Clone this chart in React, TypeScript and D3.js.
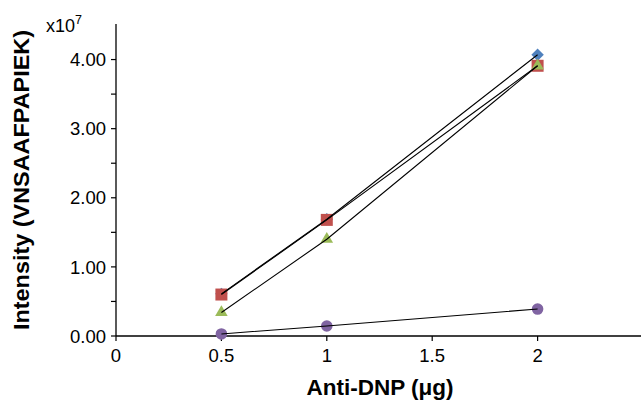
import React from "react";
import * as d3 from "d3";

const xValues = [0.5, 1, 2];
const seriesBlue = [0.61, 1.69, 4.07];
const seriesRed = [0.6, 1.68, 3.91];
const seriesGreen = [0.34, 1.4, 3.91];
const seriesPurple = [0.03, 0.145, 0.39];
const yTicks = [0, 1, 2, 3, 4];
const yMinorTicks = [0.5, 1.5, 2.5, 3.5];
const xTicks = [0, 0.5, 1, 1.5, 2];

const W = 641, H = 400;
const x = d3.scaleLinear().domain([0, 2.5]).range([116, 643]);
const y = d3.scaleLinear().domain([0, 4.5]).range([336, 25]);

const series = [
  { vals: seriesBlue, color: "#4F81BD", shape: "diamond" },
  { vals: seriesRed, color: "#C0504D", shape: "square" },
  { vals: seriesGreen, color: "#9BBB59", shape: "triangle" },
  { vals: seriesPurple, color: "#8064A2", shape: "circle" },
];

function markerPath(shape: string): string {
  if (shape === "diamond") return "M0,-6.2L6.2,0L0,6.2L-6.2,0Z";
  if (shape === "square") return d3.symbol().type(d3.symbolSquare).size(144)()!;
  if (shape === "triangle") return d3.symbol().type(d3.symbolTriangle).size(68)()!;
  return d3.symbol().type(d3.symbolCircle).size(105)()!;
}

export default function App() {
  const line = d3.line<number>().x((_, i) => x(xValues[i])).y((v) => y(v));
  const font = "'Liberation Sans', Arial, Helvetica, sans-serif";
  return (
    <svg width={W} height={H} style={{ position: "absolute", left: 0, top: 0 }} fontFamily={font}>
      {/* axes */}
      <line x1={116} x2={116} y1={24} y2={336} stroke="#000" strokeWidth={1.3} />
      <line x1={116} x2={641} y1={336} y2={336} stroke="#000" strokeWidth={1.3} />
      {yTicks.concat(yMinorTicks).map((t) => (
        <line key={"yt" + t} x1={111} x2={116} y1={y(t)} y2={y(t)} stroke="#000" strokeWidth={1.2} />
      ))}
      {xTicks.map((t) => (
        <line key={"xt" + t} x1={x(t)} x2={x(t)} y1={336} y2={341} stroke="#000" strokeWidth={1.2} />
      ))}
      {yTicks.map((t) => (
        <text key={"yl" + t} x={106} y={y(t)} dy="0.36em" textAnchor="end" fontSize={18.5}>
          {t.toFixed(2)}
        </text>
      ))}
      {xTicks.map((t) => (
        <text key={"xl" + t} x={x(t)} y={362} textAnchor="middle" fontSize={18.5}>
          {String(t)}
        </text>
      ))}
      <text x={46} y={32} fontSize={18}>
        x10<tspan dy={-8} fontSize={12.5}>7</tspan>
      </text>
      <text x={380} y={395} textAnchor="middle" fontSize={22} fontWeight="bold" textLength={147} lengthAdjust="spacingAndGlyphs">
        Anti-DNP (μg)
      </text>
      <text transform={`translate(29,180) rotate(-90)`} textAnchor="middle" fontSize={22} fontWeight="bold" textLength={300} lengthAdjust="spacingAndGlyphs">
        Intensity (VNSAAFPAPIEK)
      </text>
      {/* markers */}
      {series.map((s, si) =>
        s.vals.map((v, i) => (
          <path
            key={`m${si}-${i}`}
            d={markerPath(s.shape)}
            transform={`translate(${x(xValues[i])},${y(v)})`}
            fill={s.color}
          />
        ))
      )}
      {/* lines */}
      {series.map((s, si) => (
        <path key={"l" + si} d={line(s.vals)!} fill="none" stroke="#000" strokeWidth={1.1} />
      ))}
    </svg>
  );
}
